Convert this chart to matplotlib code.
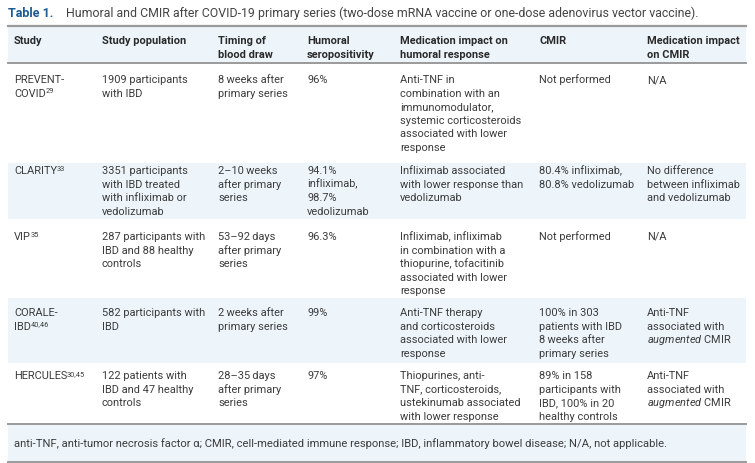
import matplotlib
matplotlib.use('Agg')
import matplotlib.pyplot as plt
from matplotlib.patches import Rectangle

plt.rcParams['font.family'] = ['Roboto', 'DejaVu Sans']
plt.rcParams['mathtext.fontset'] = 'custom'
plt.rcParams['mathtext.rm'] = 'Roboto'
plt.rcParams['mathtext.it'] = 'Roboto:italic'

# texts of the table
title_bold = "Table 1."
title_rest = "Humoral and CMIR after COVID-19 primary series (two-dose mRNA vaccine or one-dose adenovirus vector vaccine)."
headers = ["Study", "Study population", "Timing of\nblood draw", "Humoral\nseropositivity",
           "Medication impact on\nhumoral response", "CMIR", "Medication impact\non CMIR"]
studies = ["PREVENT-\nCOVID", "CLARITY", "VIP", "CORALE-\nIBD", "HERCULES"]
study_refs = ["29", "33", "35", "40,46", "30,45"]
populations = ["1909 participants\nwith IBD",
               "3351 participants\nwith IBD treated\nwith infliximab or\nvedolizumab",
               "287 participants with\nIBD and 88 healthy\ncontrols",
               "582 participants with\nIBD",
               "122 patients with\nIBD and 47 healthy\ncontrols"]
timings = ["8\u2009weeks after\nprimary series",
           "2\u201310\u2009weeks\nafter primary\nseries",
           "53\u201392\u2009days\nafter primary\nseries",
           "2\u2009weeks after\nprimary series",
           "28\u201335\u2009days\nafter primary\nseries"]
seropos = ["96%", "94.1%\ninfliximab,\n98.7%\nvedolizumab", "96.3%", "99%", "97%"]
med_humoral = ["Anti-TNF in\ncombination with an\nimmunomodulator,\nsystemic corticosteroids\nassociated with lower\nresponse",
               "Infliximab associated\nwith lower response than\nvedolizumab",
               "Infliximab, infliximab\nin combination with a\nthiopurine, tofacitinib\nassociated with lower\nresponse",
               "Anti-TNF therapy\nand corticosteroids\nassociated with lower\nresponse",
               "Thiopurines, anti-\nTNF, corticosteroids,\nustekinumab associated\nwith lower response"]
cmir = ["Not performed", "80.4% infliximab,\n80.8% vedolizumab", "Not performed",
        "100% in 303\npatients with IBD\n8\u2009weeks after\nprimary series",
        "89% in 158\nparticipants with\nIBD, 100% in 20\nhealthy controls"]
med_cmir = ["N/A", "No difference\nbetween infliximab\nand vedolizumab", "N/A",
            "Anti-TNF\nassociated with\n$\\mathit{augmented}$ CMIR",
            "Anti-TNF\nassociated with\n$\\mathit{augmented}$ CMIR"]
footnote = "anti-TNF, anti-tumor necrosis factor \u03b1; CMIR, cell-mediated immune response; IBD, inflammatory bowel disease; N/A, not applicable."

columns = [studies, populations, timings, seropos, med_humoral, cmir, med_cmir]

# layout in pixels
W, H = 755, 464
col_x = [14, 102, 218, 307, 400, 539, 647]
row_base = [83, 174, 240, 316, 379]
pitch = 13.6
shaded_rows = [(164, 220), (299, 364)]
txt_color = '#3c3c3c'
band = '#edf5fb'
line_c = '#9a9a9a'
fs = 7.9

fig = plt.figure(figsize=(W / 100, H / 100), dpi=100)
ax = fig.add_axes([0, 0, 1, 1])
ax.set_xlim(0, W)
ax.set_ylim(H, 0)
ax.axis('off')
renderer = fig.canvas.get_renderer()

x0, x1 = 8, 746
# bands
ax.add_patch(Rectangle((x0, 27), x1 - x0, 36, color=band, lw=0))
for y_a, y_b in shaded_rows:
    ax.add_patch(Rectangle((x0, y_a), x1 - x0, y_b - y_a, color=band, lw=0))
ax.add_patch(Rectangle((x0, 425), x1 - x0, 38, color=band, lw=0))
# rules
ax.plot([x0, x1], [27, 27], color=line_c, lw=1.6)
ax.plot([x0, x1], [63.5, 63.5], color=line_c, lw=1.4)
ax.plot([x0, x1], [425, 425], color=line_c, lw=1.4)
ax.plot([x0, x1], [462.5, 462.5], color=line_c, lw=1.4)

# title
ax.text(8, 17, title_bold, fontsize=9, fontweight='bold', color='#1c5a92', va='baseline')
ax.text(66, 17, title_rest, fontsize=8.9, color='#444444', va='baseline')

# header
for cx, h in zip(col_x, headers):
    for i, line in enumerate(h.split('\n')):
        ax.text(cx, 44 + i * pitch, line, fontsize=fs, fontweight='bold', color='#2a2a2a', va='baseline')

# body
for cx, col in zip(col_x, columns):
    for k, (yb, cell) in enumerate(zip(row_base, col)):
        lines = cell.split('\n')
        for i, line in enumerate(lines):
            y = yb + i * pitch
            t = ax.text(cx, y, line, fontsize=fs, color=txt_color, va='baseline')
            # reference number as superscript after study name
            if col is studies and i == len(lines) - 1:
                bb = t.get_window_extent(renderer)
                ax.text(bb.x1 - 0.3, y - 3.2, study_refs[k], fontsize=5.3,
                        color=txt_color, va='baseline', ha='left')

ax.text(14, 447, footnote, fontsize=8.15, color=txt_color, va='baseline')

fig.savefig('out.png', dpi=100)
